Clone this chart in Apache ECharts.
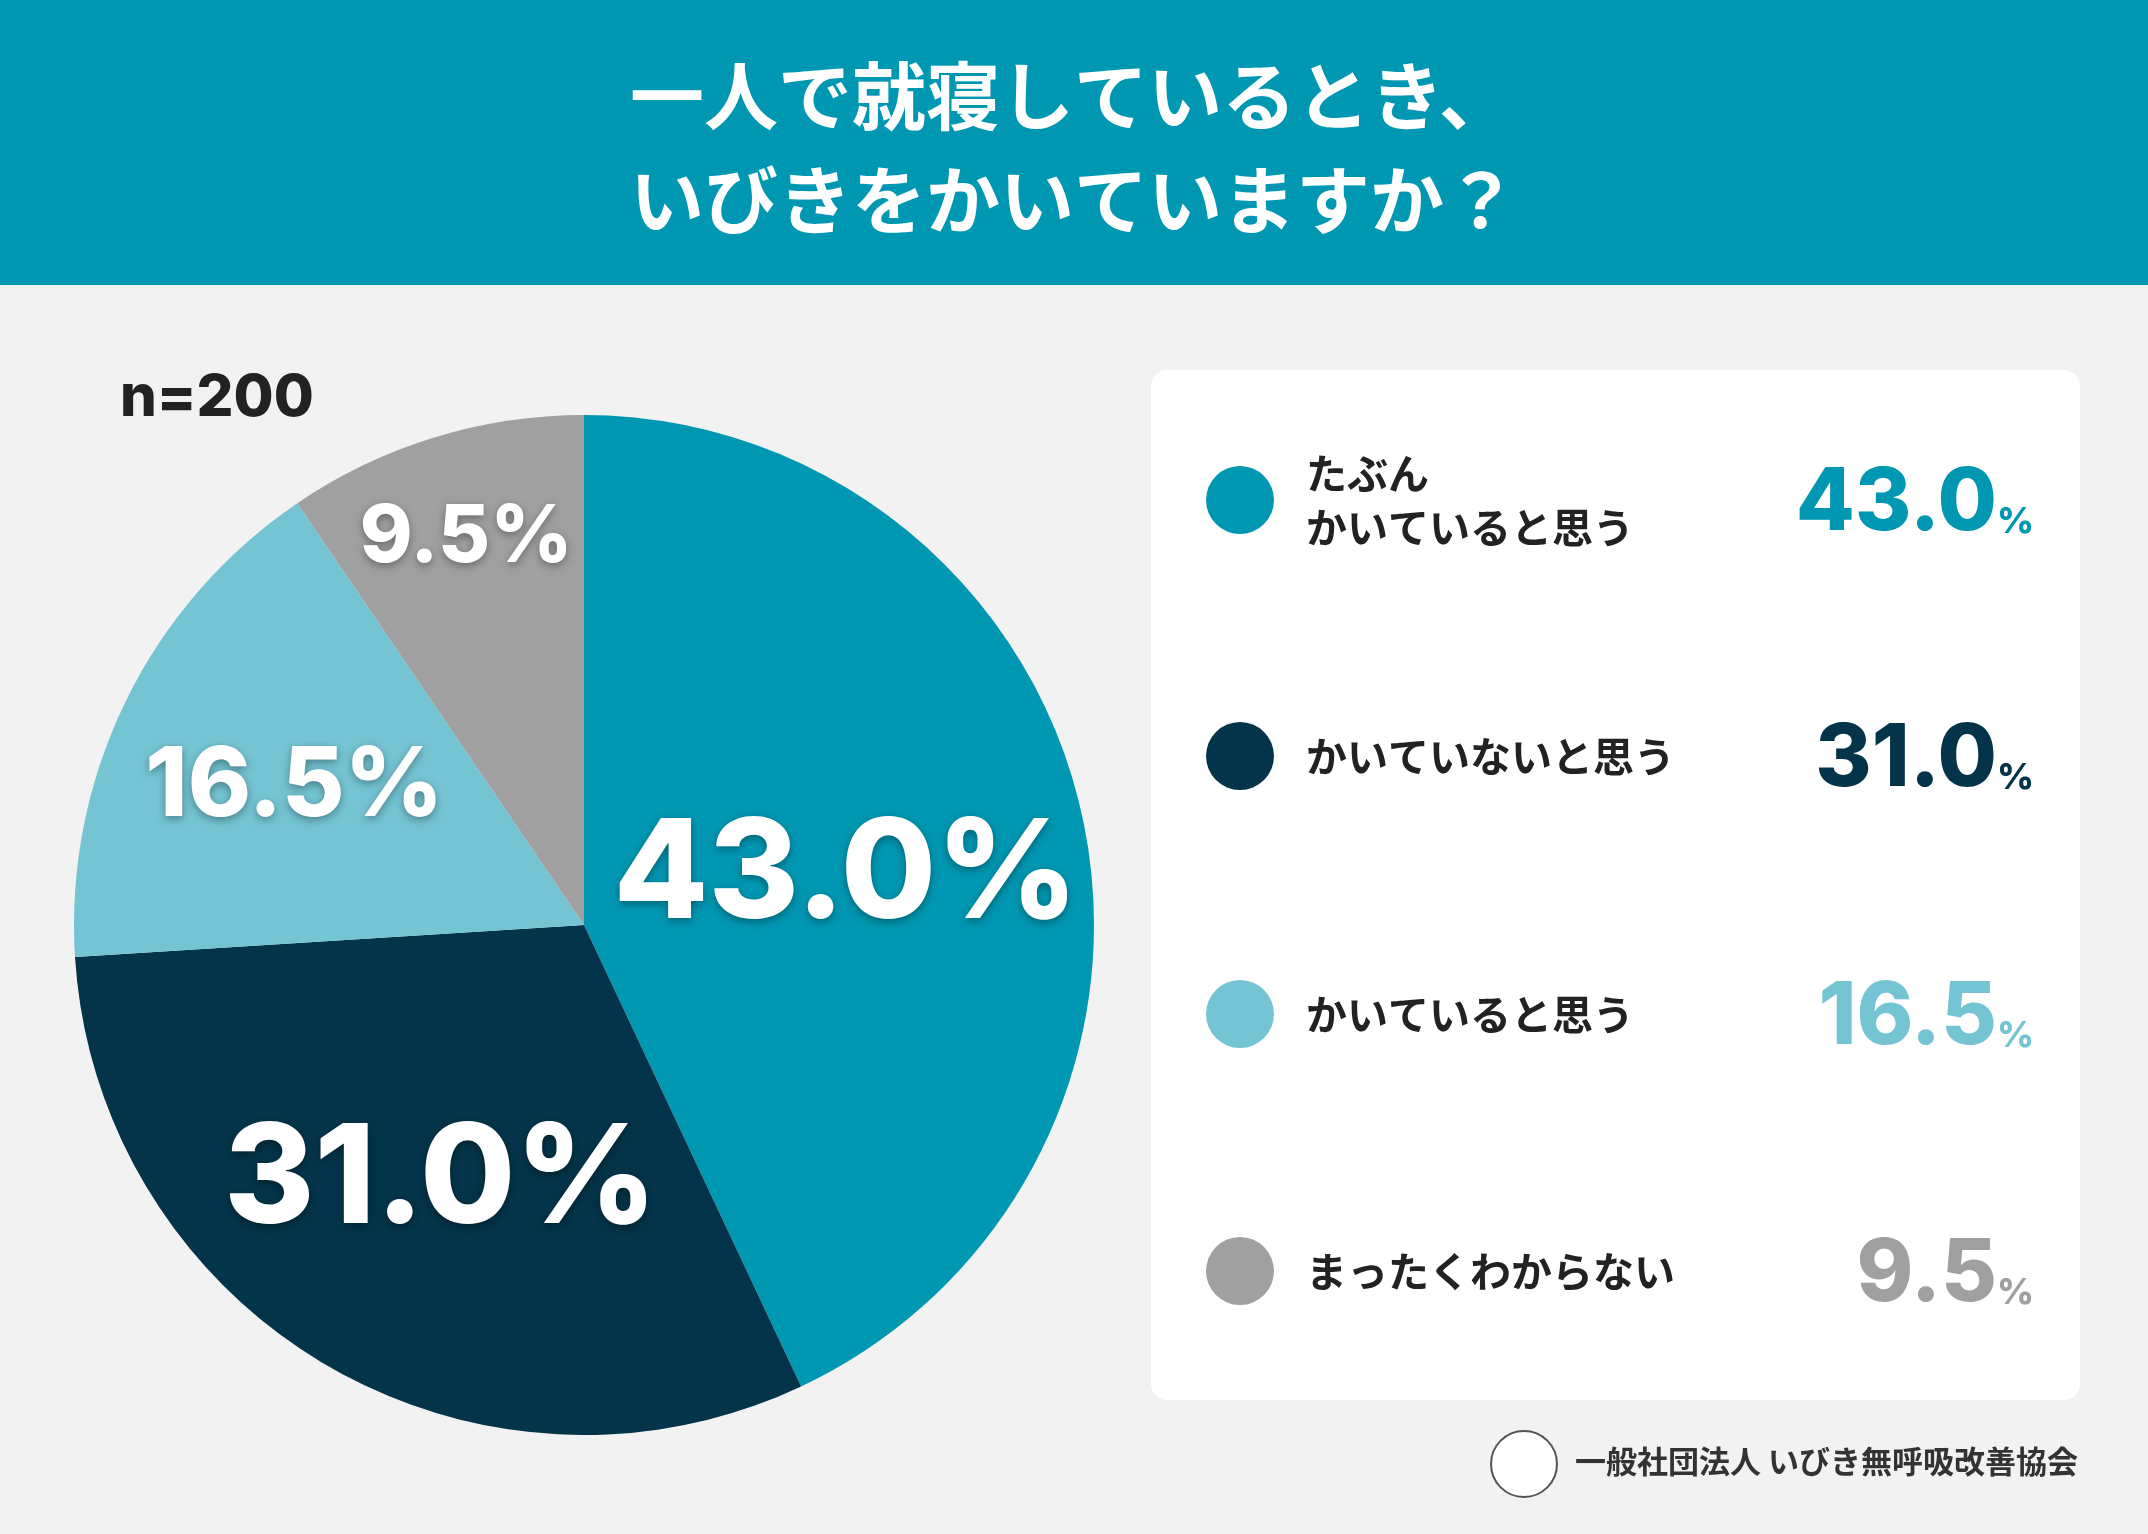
<!DOCTYPE html>
<html><head><meta charset="utf-8">
<script src="https://cdn.jsdelivr.net/npm/echarts@6/dist/echarts.min.js"></script>
<style>html,body{margin:0;padding:0;background:#f2f2f2}#main{width:2148px;height:1534px}</style>
</head><body><div id="main"></div>
<script>
// 回答データ
var categories = ['たぶん\nかいていると思う', 'かいていないと思う', 'かいていると思う', 'まったくわからない'];
var values = [43.0, 31.0, 16.5, 9.5];
var colors = ['#0097b2', '#04344a', '#74c4d4', '#a0a0a0'];
var labelSizes = [138, 138, 96, 80];
var labelOffsets = [[10, 8], [-12, 34], [-58, -24], [-42, -140]];

var JP = '"Noto Sans CJK JP", sans-serif';
var NUM = 'Inter, "Noto Sans", sans-serif';

var chart = echarts.init(document.getElementById('main'));

var pieData = [];
for (var i = 0; i < values.length; i++) {
    pieData.push({
        name: categories[i], value: values[i],
        itemStyle: {color: colors[i]},
        label: {fontSize: labelSizes[i], offset: labelOffsets[i]}
    });
}

// 凡例（右側のカード）
var graphics = [
    {type: 'rect', left: 0, top: 0, shape: {width: 2148, height: 285}, style: {fill: '#0097b2'}},
    {type: 'text', left: 'center', top: 44, style: {text: '一人で就寝しているとき、\nいびきをかいていますか？', fill: '#fff',
        font: 'bold 74px ' + JP, lineHeight: 104, align: 'center'}},
    {type: 'text', left: 120, top: 370, style: {text: 'n=200', fill: '#222', font: '800 58px ' + NUM}},
    {type: 'rect', left: 1151, top: 370, shape: {width: 929, height: 1030, r: 16}, style: {fill: '#fff'}},
    {type: 'circle', left: 1490, top: 1430, shape: {r: 33}, style: {fill: '#fff', stroke: '#555', lineWidth: 2}},
    {type: 'text', left: 1575, top: 1446, style: {text: '一般社団法人 いびき無呼吸改善協会', fill: '#333', font: 'bold 31px ' + JP}}
];
var rowY = [500, 756, 1014, 1271];
for (var j = 0; j < categories.length; j++) {
    graphics.push({type: 'circle', x: 1240, y: rowY[j], shape: {r: 34}, style: {fill: colors[j]}});
    graphics.push({type: 'text', x: 1306, y: rowY[j], style: {text: categories[j], fill: '#222',
        font: 'bold 41px ' + JP, lineHeight: 54, verticalAlign: 'middle'}});
    graphics.push({type: 'text', x: 2034, y: rowY[j] + 4, style: {
        text: '{n|' + values[j].toFixed(1) + '}{p|%}', align: 'right', verticalAlign: 'middle',
        rich: {n: {fontSize: 86, fontWeight: 800, fontFamily: NUM, fill: colors[j], color: colors[j]},
               p: {fontSize: 36, fontWeight: 800, fontFamily: NUM, color: colors[j], fill: colors[j], padding: [36, 0, 0, 0]}}}});
}

chart.setOption({
    backgroundColor: '#f2f2f2',
    animation: false,
    graphic: graphics,
    series: [{
        type: 'pie',
        center: [584, 925],
        radius: [0, 510],
        startAngle: 90,
        clockwise: true,
        label: {
            position: 'inside', color: '#fff', fontFamily: NUM, fontWeight: 800,
            formatter: function (p) { return p.value.toFixed(1) + '%'; },
            textShadowColor: 'rgba(0,0,0,0.35)', textShadowBlur: 8, textShadowOffsetY: 3
        },
        labelLine: {show: false},
        data: pieData
    }]
});
</script></body></html>
